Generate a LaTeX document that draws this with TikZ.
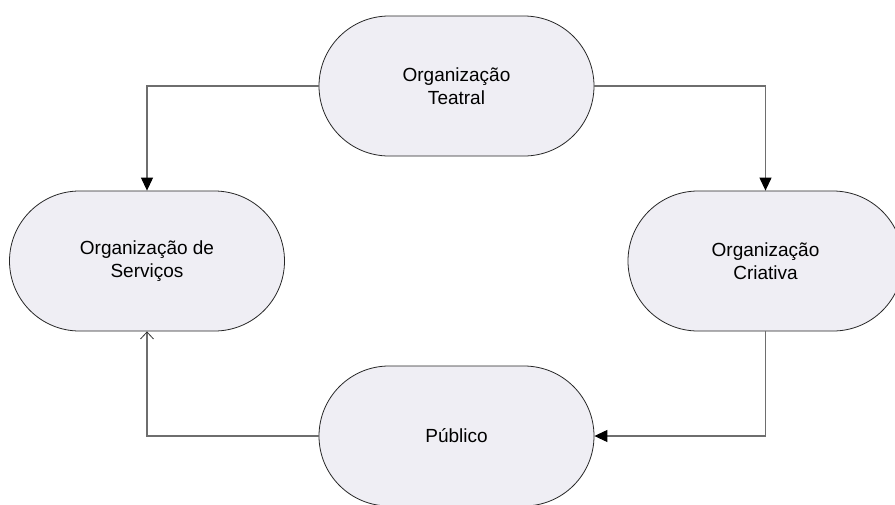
\documentclass[tikz,border=0pt]{standalone}
\usepackage{fontspec}
\setmainfont{Liberation Sans}
\usetikzlibrary{shapes.misc,arrows.meta}
\definecolor{stadfill}{HTML}{EFEEF4}
\definecolor{linkgray}{HTML}{6E6E6E}
\begin{document}
\begin{tikzpicture}[x=1pt,y=-1pt,
  stad/.style={rounded rectangle, draw=black!85, line width=0.8pt, fill=stadfill,
    minimum width=275pt, minimum height=140pt, inner sep=0pt, align=center,
    font=\fontsize{19}{22.5}\selectfont},
  link/.style={draw=linkgray, line width=1.1pt},
  solidtip/.style={-{Triangle[length=13pt,width=12pt,fill=black,color=black]}},
  opentip/.style={-{Straight Barb[length=7pt,width=13pt,line width=0.8pt,color=black!80]}}]
\useasboundingbox (0,0) rectangle (895,504);
\fill[white] (0,0) rectangle (895,504);
\node[stad] (teatral) at (456.5,86) {Organização\\Teatral};
\node[stad] (servicos) at (147,261) {Organização de\\Serviços};
\node[stad] (criativa) at (765.5,261) {Organização\\Criativa};
\node[stad] (publico) at (456.5,436) {Público};
\draw[link,solidtip] (teatral.west) -| (servicos.north);
\draw[link,solidtip] (teatral.east) -| (criativa.north);
\draw[link,solidtip] (criativa.south) |- (publico.east);
\draw[link,opentip] (publico.west) -| (servicos.south);
\end{tikzpicture}
\end{document}
